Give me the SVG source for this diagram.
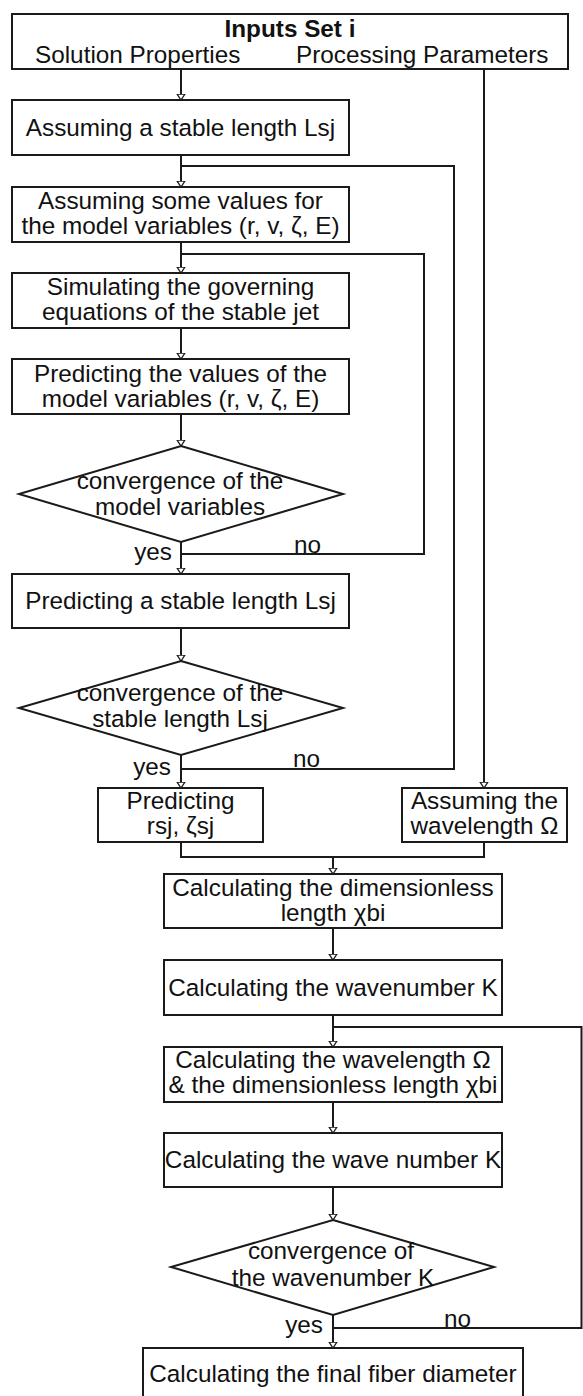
<svg xmlns="http://www.w3.org/2000/svg" width="583" height="1396" viewBox="0 0 583 1396">
<style>
.box{fill:#fff;stroke:#1a1a1a;stroke-width:2}
.ln{fill:none;stroke:#1a1a1a;stroke-width:2}
.t{font-family:"Liberation Sans",Arial,sans-serif;font-size:24.3px;fill:#111;text-anchor:middle}
.b{font-weight:bold}
.s{text-anchor:start}
.e{text-anchor:end}
</style>
<defs>
<marker id="ah" markerWidth="8" markerHeight="10" refX="6.5" refY="4.5" orient="auto" markerUnits="userSpaceOnUse">
<path d="M0.5,0.5 L6.5,4.5 L0.5,8.5 Z" fill="#fff" stroke="#1a1a1a" stroke-width="1.3"/>
</marker>
</defs>
<rect width="583" height="1396" fill="#fff"/>
<g id="connectors">
<line class="ln" x1="181" y1="69" x2="181" y2="100" marker-end="url(#ah)"/>
<line class="ln" x1="181" y1="155" x2="181" y2="187" marker-end="url(#ah)"/>
<line class="ln" x1="181" y1="242" x2="181" y2="273" marker-end="url(#ah)"/>
<line class="ln" x1="181" y1="328" x2="181" y2="359" marker-end="url(#ah)"/>
<line class="ln" x1="181" y1="414" x2="181" y2="446" marker-end="url(#ah)"/>
<line class="ln" x1="181" y1="542" x2="181" y2="574" marker-end="url(#ah)"/>
<line class="ln" x1="181" y1="628" x2="181" y2="661" marker-end="url(#ah)"/>
<line class="ln" x1="181" y1="755" x2="181" y2="788" marker-end="url(#ah)"/>
<line class="ln" x1="484" y1="69" x2="484" y2="788" marker-end="url(#ah)"/>
<polyline class="ln" points="181,554 424,554 424,254 181,254"/>
<polyline class="ln" points="181,769 454,769 454,166 181,166"/>
<polyline class="ln" points="181,842 181,857 484,857 484,842"/>
<line class="ln" x1="333" y1="857" x2="333" y2="874" marker-end="url(#ah)"/>
<line class="ln" x1="333" y1="928" x2="333" y2="960" marker-end="url(#ah)"/>
<line class="ln" x1="333" y1="1015" x2="333" y2="1047" marker-end="url(#ah)"/>
<line class="ln" x1="333" y1="1102" x2="333" y2="1133" marker-end="url(#ah)"/>
<line class="ln" x1="333" y1="1187" x2="333" y2="1220" marker-end="url(#ah)"/>
<line class="ln" x1="333" y1="1315" x2="333" y2="1348" marker-end="url(#ah)"/>
<polyline class="ln" points="333,1328 581.5,1328 581.5,1027 333,1027"/>
</g>
<g id="inputs">
<rect class="box" x="12" y="14" width="556" height="55"/>
<text class="t b" x="290" y="37">Inputs Set i</text>
<text class="t s" x="35" y="63">Solution Properties</text>
<text class="t s" x="296" y="63">Processing Parameters</text>
</g>
<g id="assume-lsj">
<rect class="box" x="12" y="100" width="337" height="55"/>
<text class="t" x="180.5" y="136">Assuming a stable length Lsj</text>
</g>
<g id="assume-vars">
<rect class="box" x="12" y="187" width="337" height="55"/>
<text class="t" x="180.5" y="209">Assuming some values for</text>
<text class="t" x="180.5" y="234">the model variables (r, v, ζ, E)</text>
</g>
<g id="simulate">
<rect class="box" x="12" y="273" width="337" height="55"/>
<text class="t" x="180.5" y="295">Simulating the governing</text>
<text class="t" x="180.5" y="320">equations of the stable jet</text>
</g>
<g id="predict-vars">
<rect class="box" x="12" y="359" width="337" height="55"/>
<text class="t" x="180.5" y="382">Predicting the values of the</text>
<text class="t" x="180.5" y="407">model variables (r, v, ζ, E)</text>
</g>
<g id="conv-vars">
<polygon class="box" points="181,446 343,494 181,542 19,494"/>
<text class="t" x="180" y="489">convergence of the</text>
<text class="t" x="180" y="515">model variables</text>
<text class="t e" x="172" y="560">yes</text>
<text class="t s" x="294" y="553">no</text>
</g>
<g id="predict-lsj">
<rect class="box" x="12" y="574" width="337" height="54"/>
<text class="t" x="180.5" y="609">Predicting a stable length Lsj</text>
</g>
<g id="conv-lsj">
<polygon class="box" points="181,661 343,708 181,755 19,708"/>
<text class="t" x="180" y="701">convergence of the</text>
<text class="t" x="180" y="727">stable length Lsj</text>
<text class="t e" x="171" y="775">yes</text>
<text class="t s" x="293" y="767">no</text>
</g>
<g id="predict-rsj">
<rect class="box" x="98" y="788" width="165" height="54"/>
<text class="t" x="180.5" y="809">Predicting</text>
<text class="t" x="180.5" y="834">rsj, ζsj</text>
</g>
<g id="assume-omega">
<rect class="box" x="402" y="788" width="165" height="54"/>
<text class="t" x="484.5" y="809">Assuming the</text>
<text class="t" x="484.5" y="834">wavelength Ω</text>
</g>
<g id="calc-chi">
<rect class="box" x="164" y="874" width="338" height="54"/>
<text class="t" x="333" y="896">Calculating the dimensionless</text>
<text class="t" x="333" y="921">length χbi</text>
</g>
<g id="calc-k1">
<rect class="box" x="164" y="960" width="338" height="55"/>
<text class="t" x="333" y="996">Calculating the wavenumber K</text>
</g>
<g id="calc-omega-chi">
<rect class="box" x="164" y="1047" width="338" height="55"/>
<text class="t" x="333" y="1068">Calculating the wavelength Ω</text>
<text class="t" x="333" y="1093">&amp; the dimensionless length χbi</text>
</g>
<g id="calc-k2">
<rect class="box" x="164" y="1133" width="338" height="54"/>
<text class="t" x="333" y="1168">Calculating the wave number K</text>
</g>
<g id="conv-k">
<polygon class="box" points="333,1220 494,1267 333,1315 171,1267"/>
<text class="t" x="331" y="1259">convergence of</text>
<text class="t" x="333" y="1286">the wavenumber K</text>
<text class="t e" x="323" y="1333">yes</text>
<text class="t s" x="444" y="1327">no</text>
</g>
<g id="final">
<rect class="box" x="143" y="1348" width="380" height="60"/>
<text class="t" x="333" y="1382">Calculating the final fiber diameter</text>
</g>
</svg>
